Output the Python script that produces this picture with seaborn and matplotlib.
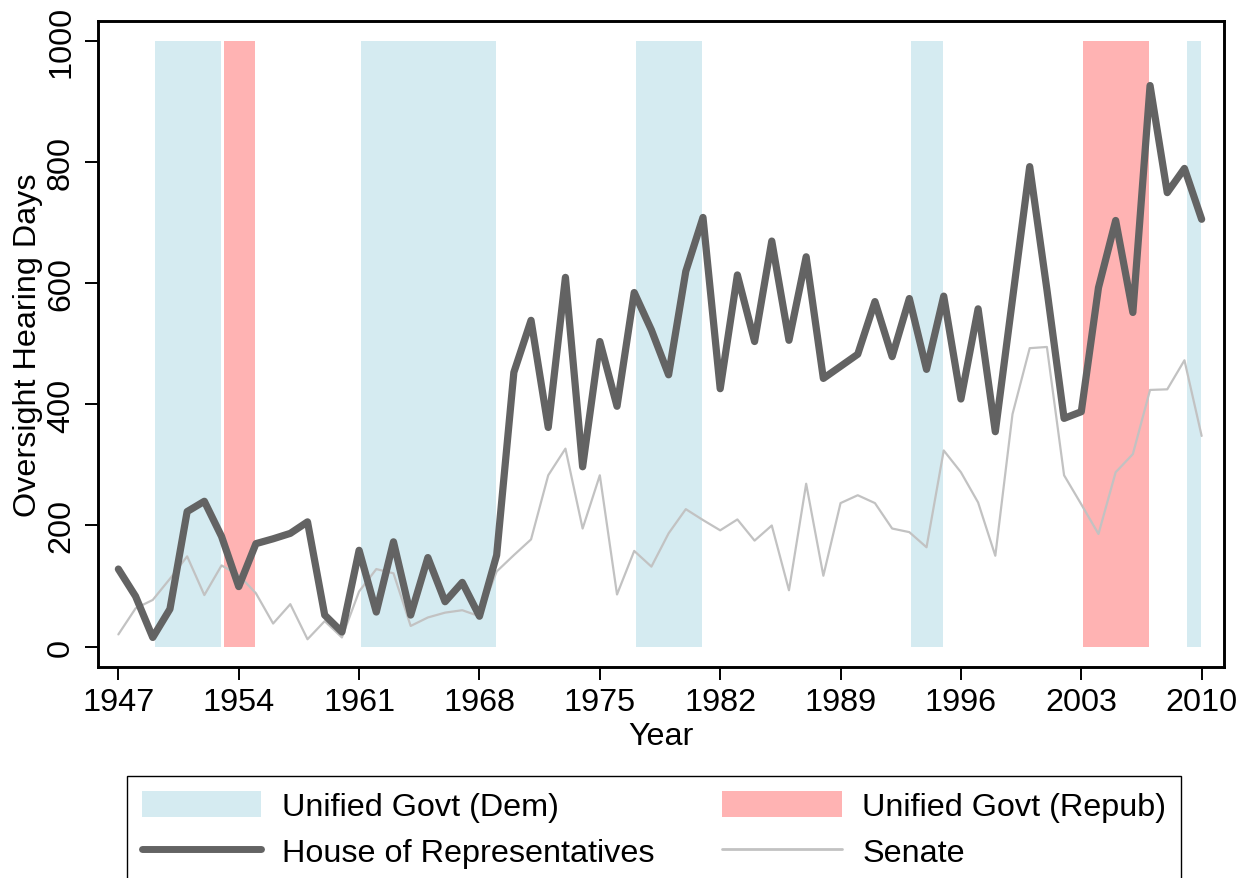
import matplotlib
matplotlib.use("Agg")
import matplotlib.pyplot as plt
import seaborn as sns
import pandas as pd
from matplotlib.patches import Patch
from matplotlib.lines import Line2D

# data
years = list(range(1947, 2011))
house = [128, 83, 15, 62, 223, 240, 182, 99, 170, 178,
         187, 206, 52, 24, 159, 57, 173, 52, 147, 74,
         106, 50, 151, 453, 539, 362, 610, 297, 504, 397,
         585, 523, 449, 620, 709, 426, 614, 504, 670, 506,
         644, 443, 463, 483, 570, 479, 575, 458, 579, 409,
         558, 355, 574, 793, 590, 377, 388, 593, 704, 552,
         927, 750, 790, 706]
senate = [20, 63, 77, 112, 149, 85, 134, 118, 88, 38,
          70, 12, 42, 15, 91, 128, 121, 34, 48, 56,
          60, 50, 124, 151, 177, 283, 327, 195, 283, 86,
          158, 132, 187, 227, 209, 192, 210, 175, 200, 93,
          269, 117, 237, 250, 237, 195, 189, 164, 324, 288,
          238, 150, 384, 493, 495, 283, 235, 186, 288, 318,
          424, 425, 473, 348]

# unified government periods (start year, end year)
dem_start = [1949, 1961, 1977, 1993, 2009]
dem_end = [1953, 1969, 1981, 1995, 2010]
rep_start = [1953, 2003]
rep_end = [1955, 2007]
band_top = 1000

year_ticks = [1947, 1954, 1961, 1968, 1975, 1982, 1989, 1996, 2003, 2010]
y_ticks = [0, 200, 400, 600, 800, 1000]

df = pd.DataFrame({"year": years, "house": house, "senate": senate})

sns.set_style("ticks")
plt.rcParams["font.family"] = ["Liberation Sans", "DejaVu Sans"]
plt.rcParams["text.color"] = "black"
plt.rcParams["axes.labelcolor"] = "black"

blue = "#d5ebf1"
red = "#ffb3b3"
house_col = "#636363"
senate_col = "#c2c2c2"
fs = 23.3

fig = plt.figure(figsize=(12.54, 8.79), dpi=100)
ax = fig.add_axes([0.0778, 0.240, 0.898, 0.7355])

# shaded bands
for s, e in zip(dem_start, dem_end):
    ax.bar(s + 0.12, band_top, width=(e - s) - 0.17, align="edge",
           color=blue, linewidth=0, zorder=1)
for s, e in zip(rep_start, rep_end):
    ax.bar(s + 0.12, band_top, width=(e - s) - 0.17, align="edge",
           color=red, linewidth=0, zorder=1)

sns.lineplot(data=df, x="year", y="senate", ax=ax, color=senate_col,
             linewidth=1.6, zorder=2)
sns.lineplot(data=df, x="year", y="house", ax=ax, color=house_col,
             linewidth=5.2, zorder=3)

ax.set_xlim(1945.79, 2011.28)
ax.set_ylim(-33.9, 1034.4)
ax.set_xticks(year_ticks)
ax.set_yticks(y_ticks)
ax.set_yticklabels([str(v) for v in y_ticks], rotation=90, va="center")
ax.set_xlabel("Year", fontsize=fs, labelpad=3)
ax.set_ylabel("Oversight Hearing Days", fontsize=fs, labelpad=2)
ax.tick_params(axis="both", labelsize=fs, length=9.5, width=1.4,
               color="black", labelcolor="black", direction="out")
ax.tick_params(axis="x", pad=5)
ax.tick_params(axis="y", pad=6)
for side in ax.spines.values():
    side.set_visible(True)
    side.set_color("black")
    side.set_linewidth(2.1)
ax.grid(False)

handles = [
    Patch(facecolor=blue, edgecolor="none"),
    Line2D([], [], color=house_col, linewidth=5.0),
    Patch(facecolor=red, edgecolor="none"),
    Line2D([], [], color=senate_col, linewidth=2.0),
]
labels = ["Unified Govt (Dem)", "House of Representatives",
          "Unified Govt (Repub)", "Senate"]
leg = ax.legend(handles, labels, ncol=2, loc="upper left",
                bbox_to_anchor=(127 / 1254, 1 - 777 / 879),
                bbox_transform=fig.transFigure, fontsize=fs,
                frameon=True, fancybox=False, framealpha=1,
                edgecolor="black", handlelength=3.7, handleheight=0.9,
                handletextpad=0.63, columnspacing=2.1, labelspacing=0.44,
                borderpad=0.45, borderaxespad=0)
leg.get_frame().set_linewidth(1.0)

fig.savefig("out.png", dpi=100)
